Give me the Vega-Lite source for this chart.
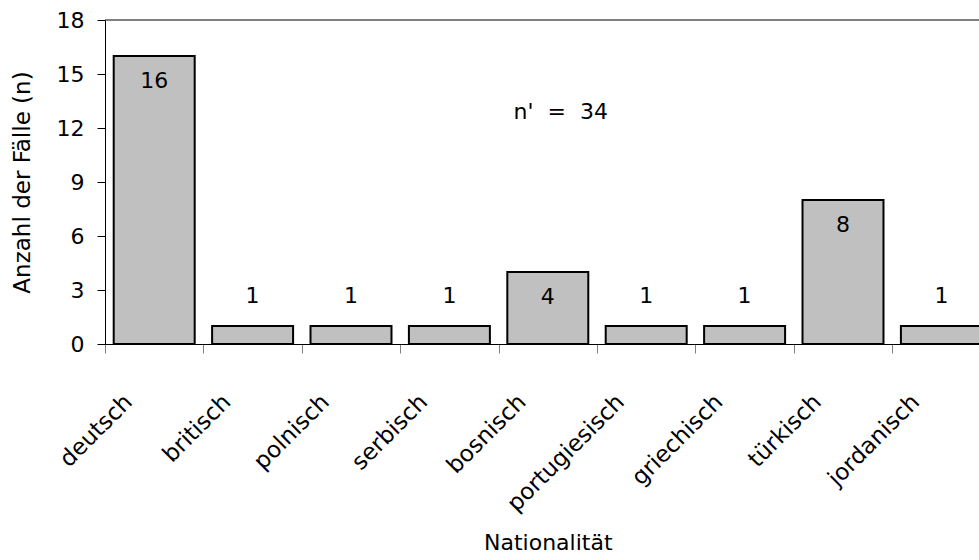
{
  "$schema": "https://vega.github.io/schema/vega-lite/v6.json",
  "width": 874,
  "height": 324,
  "autosize": {"type": "none"},
  "padding": {"left": 105, "top": 20, "right": 0, "bottom": 216},
  "background": "white",
  "config": {
    "view": {"stroke": null},
    "font": "DejaVu Sans"
  },
  "data": {
    "values": [
      {"nat": "deutsch", "n": 16},
      {"nat": "britisch", "n": 1},
      {"nat": "polnisch", "n": 1},
      {"nat": "serbisch", "n": 1},
      {"nat": "bosnisch", "n": 4},
      {"nat": "portugiesisch", "n": 1},
      {"nat": "griechisch", "n": 1},
      {"nat": "türkisch", "n": 8},
      {"nat": "jordanisch", "n": 1}
    ]
  },
  "encoding": {
    "x": {
      "field": "nat",
      "type": "nominal",
      "sort": null,
      "scale": {
        "domain": ["deutsch", "britisch", "polnisch", "serbisch", "bosnisch", "portugiesisch", "griechisch", "türkisch", "jordanisch"],
        "range": [0, 885.6],
        "paddingInner": 0.177,
        "paddingOuter": 0.0885
      },
      "axis": {
        "title": "Nationalität",
        "titleFont": "DejaVu Sans",
        "titleFontSize": 22,
        "titleFontWeight": "normal",
        "titleColor": "#000",
        "titlePadding": 17,
        "labelAngle": -45,
        "labelAlign": "right",
        "labelBaseline": "middle",
        "labelFont": "DejaVu Sans",
        "labelFontSize": 23,
        "labelColor": "#000",
        "labelOffset": -17.3,
        "labelPadding": 45,
        "labelOverlap": false,
        "labelFlush": false,
        "labelLimit": 400,
        "bandPosition": 0,
        "tickOffset": -8.7,
        "tickSize": 9,
        "tickColor": "#808080",
        "domainColor": "#000",
        "grid": false
      }
    },
    "y": {
      "field": "n",
      "type": "quantitative",
      "scale": {"domain": [0, 18], "nice": false},
      "axis": {
        "title": "Anzahl der Fälle (n)",
        "titleFont": "DejaVu Sans",
        "titleFontSize": 23,
        "titleFontWeight": "normal",
        "titleColor": "#000",
        "titlePadding": 22,
        "values": [0, 3, 6, 9, 12, 15, 18],
        "labelFont": "DejaVu Sans",
        "labelFontSize": 22,
        "labelColor": "#000",
        "labelPadding": 13,
        "tickSize": 8,
        "tickColor": "#000",
        "domainColor": "#000",
        "grid": false
      }
    }
  },
  "layer": [
    {
      "data": {"values": [{"top": 18}]},
      "mark": {"type": "rule", "color": "#000", "strokeWidth": 1},
      "encoding": {
        "x": null,
        "y": {"field": "top", "type": "quantitative"}
      }
    },
    {
      "mark": {"type": "bar", "fill": "#c0c0c0", "stroke": "#000", "strokeWidth": 2}
    },
    {
      "transform": [{"filter": "datum.n >= 4"}],
      "mark": {"type": "text", "baseline": "middle", "align": "center", "dy": 25, "fontSize": 22, "font": "DejaVu Sans", "color": "#000"},
      "encoding": {"text": {"field": "n", "type": "quantitative"}}
    },
    {
      "transform": [{"filter": "datum.n < 4"}],
      "mark": {"type": "text", "baseline": "middle", "align": "center", "dy": -30, "fontSize": 22, "font": "DejaVu Sans", "color": "#000"},
      "encoding": {"text": {"field": "n", "type": "quantitative"}}
    },
    {
      "data": {"values": [{"label": "n'\u00a0\u00a0=\u00a0\u00a034", "nat": "bosnisch", "pos": 12.9}]},
      "mark": {"type": "text", "baseline": "middle", "align": "center", "dx": 13, "fontSize": 22, "font": "DejaVu Sans", "color": "#000"},
      "encoding": {
        "y": {"field": "pos", "type": "quantitative"},
        "text": {"field": "label"}
      }
    }
  ]
}
